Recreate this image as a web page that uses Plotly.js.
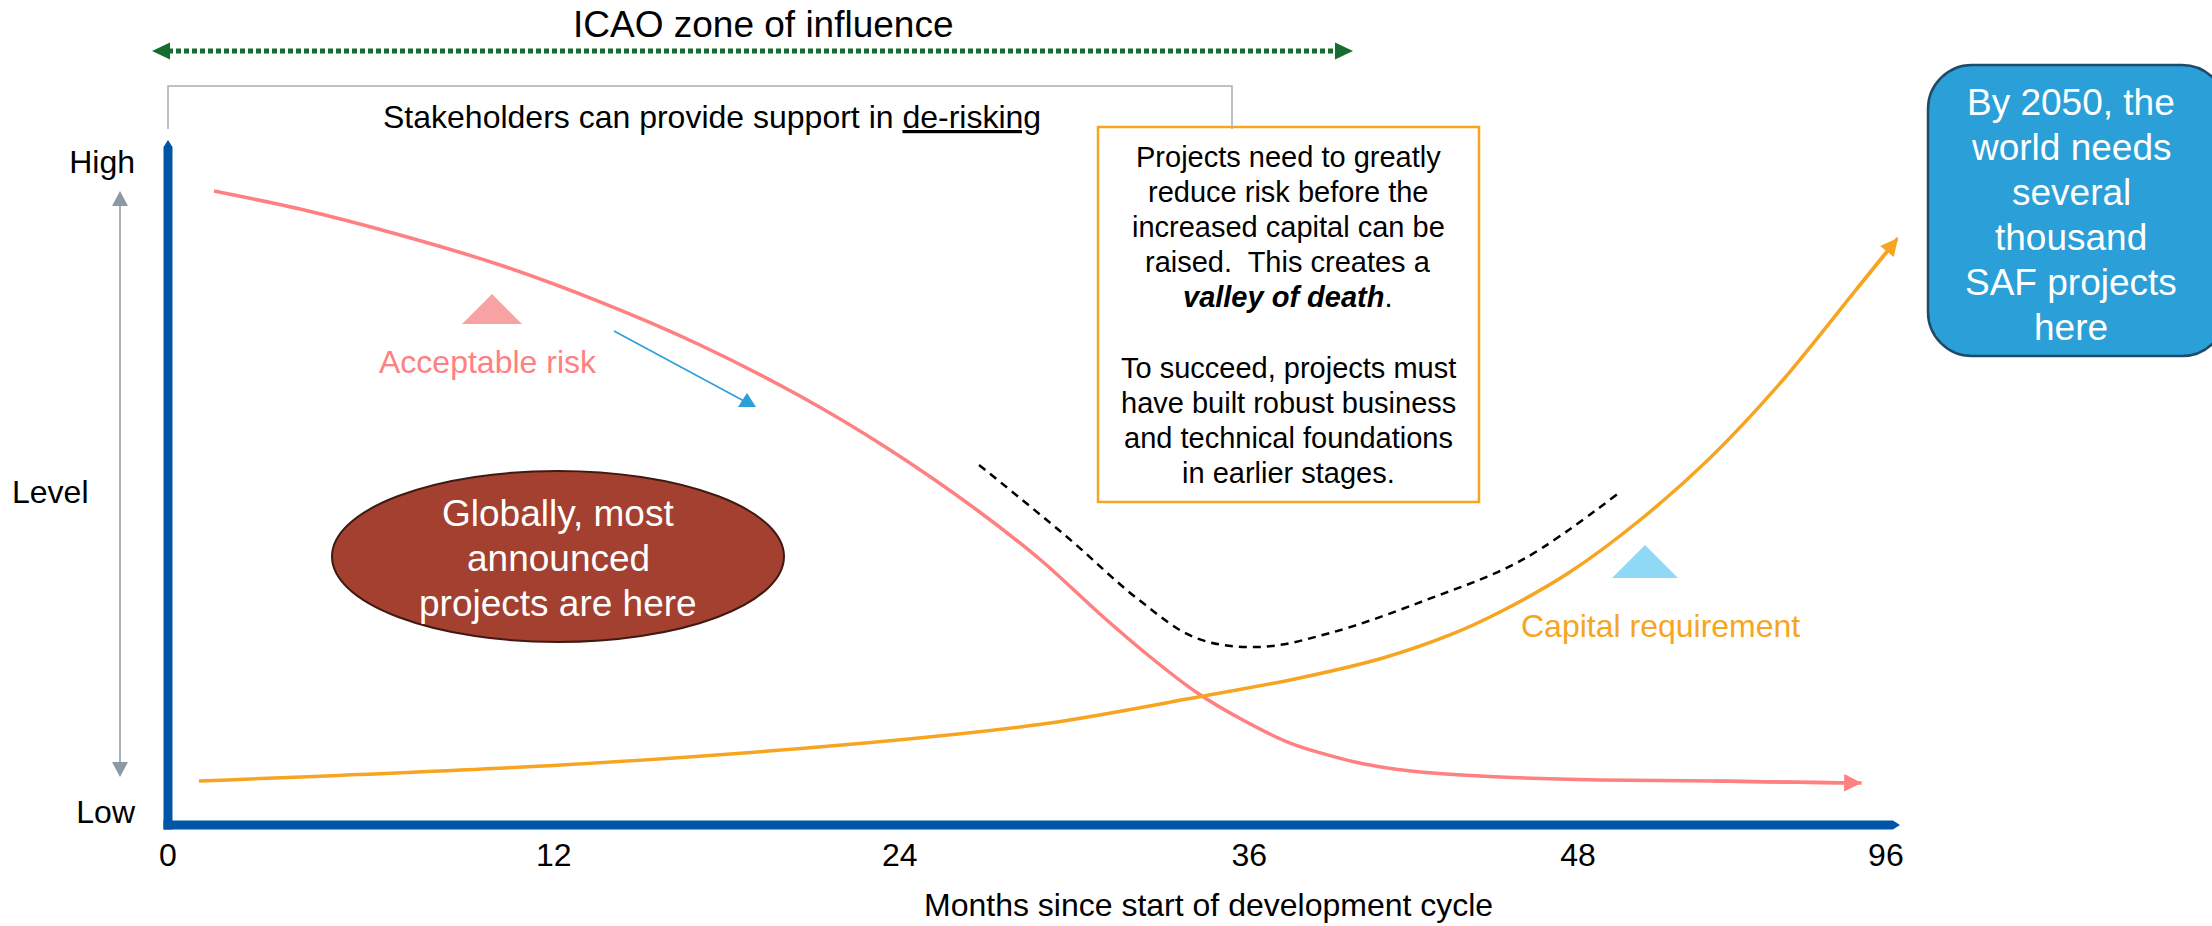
<!DOCTYPE html>
<html>
<head>
<meta charset="utf-8">
<script src="https://cdn.plot.ly/plotly-3.0.1.min.js"></script>
<style>html,body{margin:0;padding:0;background:#fff;}#chart{width:2212px;height:926px;}</style>
</head>
<body>
<div id="chart"></div>
<script>
// ---------- data ----------
const tickMonths = ["0", "12", "24", "36", "48", "96"];
const tickPositions = [0, 22.3, 42.3, 62.5, 81.5, 99.3];
const levelLabels = ["Low", "High"];
const levelPositions = [2, 97.2];

const riskX = [2.66, 7.63, 13.41, 19.19, 24.97, 30.75, 36.53, 41.56, 46.76, 50.58, 53.87, 56.71, 59.42, 62.02, 64.86, 68.61, 71.85, 76.99, 82.77, 89.25, 97.9];
const riskY = [92.96, 90.32, 86.51, 82.11, 76.69, 70.38, 62.90, 55.28, 46.19, 38.56, 30.94, 24.78, 19.50, 15.54, 12.02, 9.24, 7.92, 7.04, 6.60, 6.45, 6.16];

const capitalX = [1.79, 22.72, 38.96, 50.98, 59.54, 65.14, 70.23, 74.10, 76.99, 81.04, 85.09, 89.13, 93.35, 97.57, 100];
const capitalY = [6.45, 8.80, 11.73, 14.96, 18.77, 21.41, 24.49, 27.86, 31.23, 37.10, 44.72, 53.81, 65.25, 78.45, 86.07];

const valleyX = [46.88, 51.97, 56.13, 59.42, 63.06, 67.17, 72.72, 78.27, 83.93];
const valleyY = [52.79, 42.23, 32.99, 27.42, 26.1, 28.15, 32.99, 38.86, 48.83];

const boxLines = [
  "Projects need to greatly",
  "reduce risk before the",
  "increased capital can be",
  "raised.\u00A0 This creates a",
  "<b><i>valley of death</i></b>.",
  "",
  "To succeed, projects must",
  "have built robust business",
  "and technical foundations",
  "in earlier stages."
];
const safLines = ["By 2050, the", "world needs", "several", "thousand", "SAF projects", "here"];
const ellipseLines = ["Globally, most", "announced", "projects are here"];

// ---------- layout helpers ----------
const W = 2212, H = 926, L = 168, R = 1898, T = 143, B = 825;
const FONT = 'Liberation Sans, Arial, sans-serif';
const px = x => (x - L) / (R - L);
const py = y => (B - y) / (B - T);
function poly(pts) {
  return 'M' + pts.map(p => px(p[0]) + ',' + py(p[1])).join(' L') + ' Z';
}
function tri(pts, color) {
  return {type: 'path', xref: 'paper', yref: 'paper', path: poly(pts), fillcolor: color, line: {width: 0}, layer: 'above'};
}
function seg(x0, y0, x1, y1, color, width, dash) {
  return {type: 'line', xref: 'paper', yref: 'paper', x0: px(x0), y0: py(y0), x1: px(x1), y1: py(y1),
    line: {color: color, width: width, dash: dash || 'solid'}, layer: 'above'};
}
function roundRect(x0, y0, x1, y1, r) {
  const k = 0.552 * r;
  const P = (x, y) => px(x) + ',' + py(y);
  return 'M' + P(x0 + r, y0) + ' L' + P(x1 - r, y0) +
    ' C' + P(x1 - r + k, y0) + ' ' + P(x1, y0 + r - k) + ' ' + P(x1, y0 + r) +
    ' L' + P(x1, y1 - r) +
    ' C' + P(x1, y1 - r + k) + ' ' + P(x1 - r + k, y1) + ' ' + P(x1 - r, y1) +
    ' L' + P(x0 + r, y1) +
    ' C' + P(x0 + r - k, y1) + ' ' + P(x0, y1 - r + k) + ' ' + P(x0, y1 - r) +
    ' L' + P(x0, y0 + r) +
    ' C' + P(x0, y0 + r - k) + ' ' + P(x0 + r - k, y0) + ' ' + P(x0 + r, y0) + ' Z';
}
function label(text, x, y, size, color, extra) {
  return Object.assign({xref: 'paper', yref: 'paper', x: px(x), y: py(y), text: text, showarrow: false,
    xanchor: 'center', yanchor: 'middle', font: {family: FONT, size: size, color: color}}, extra || {});
}
function stack(lines, cx, y0, step, size, color) {
  const out = [];
  lines.forEach((t, i) => { if (t !== '') out.push(label(t, cx, y0 + i * step, size, color)); });
  return out;
}

// ---------- traces ----------
const traces = [
  {x: riskX, y: riskY, mode: 'lines', name: 'Acceptable risk', hoverinfo: 'skip',
   line: {color: '#FF8080', width: 3.5, shape: 'spline', smoothing: 0.8}},
  {x: capitalX, y: capitalY, mode: 'lines', name: 'Capital requirement', hoverinfo: 'skip',
   line: {color: '#F7A520', width: 3.5, shape: 'spline', smoothing: 0.8}},
  {x: valleyX, y: valleyY, mode: 'lines', name: 'Valley of death', hoverinfo: 'skip',
   line: {color: '#000000', width: 2.5, dash: '8px,6px', shape: 'spline', smoothing: 1}}
];

const nR = riskX.length, nC = capitalX.length;

const annotations = [
  label('ICAO zone of influence', 763, 25, 37, '#000'),
  label('Stakeholders can provide support in <span style="text-decoration:underline">de-risking</span>', 712, 117, 32, '#000'),
  label('Level', 50, 492, 32, '#000'),
  label('Acceptable risk', 488, 362, 32, '#FF8080'),
  label('Capital requirement', 1660, 626, 32, '#F7A520'),
  label('Months since start of development cycle', 1208, 905, 32, '#000'),
  // arrow heads on the curve ends, anchored to data
  {x: riskX[nR - 1], y: riskY[nR - 1], ax: riskX[nR - 2], ay: riskY[nR - 2], xref: 'x', yref: 'y', axref: 'x', ayref: 'y',
   showarrow: true, arrowhead: 2, arrowsize: 1, arrowwidth: 3.5, arrowcolor: '#FF8080', text: ''},
  {x: capitalX[nC - 1], y: capitalY[nC - 1], ax: capitalX[nC - 2], ay: capitalY[nC - 2], xref: 'x', yref: 'y', axref: 'x', ayref: 'y',
   showarrow: true, arrowhead: 2, arrowsize: 1, arrowwidth: 3.5, arrowcolor: '#F7A520', text: ''}
].concat(
  stack(boxLines, 1288, 157, 35.1, 29, '#000'),
  stack(safLines, 2071, 102, 45, 37, '#FFFFFF'),
  stack(ellipseLines, 558, 513, 45, 37, '#FFFFFF')
);

const shapes = [
  // axes
  seg(168, 829.5, 168, 147, '#0056A6', 9),
  tri([[163.5, 147], [172.5, 147], [168, 140]], '#0056A6'),
  seg(163.5, 825, 1893, 825, '#0056A6', 9),
  tri([[1893, 820.5], [1893, 829.5], [1900, 825]], '#0056A6'),
  // level double arrow
  seg(120, 204, 120, 764, '#8E9AA3', 1.5),
  tri([[112, 206], [128, 206], [120, 191]], '#8E9AA3'),
  tri([[112, 762], [128, 762], [120, 777]], '#8E9AA3'),
  // ICAO zone arrow
  seg(168, 51, 1337, 51, '#176B2E', 5, '5px,3px'),
  tri([[152, 51], [170, 42.5], [170, 59.5]], '#176B2E'),
  tri([[1353, 51], [1335, 42.5], [1335, 59.5]], '#176B2E'),
  // stakeholders bracket
  {type: 'path', xref: 'paper', yref: 'paper', layer: 'above',
   path: 'M' + px(168) + ',' + py(129) + ' L' + px(168) + ',' + py(86) + ' L' + px(1232) + ',' + py(86) + ' L' + px(1232) + ',' + py(129),
   line: {color: '#ADADAD', width: 1.5}},
  // orange text box
  {type: 'rect', xref: 'paper', yref: 'paper', layer: 'below', x0: px(1098), x1: px(1479), y0: py(127), y1: py(502),
   line: {color: '#F7A520', width: 2.5}, fillcolor: '#FFFFFF'},
  // blue rounded box
  {type: 'path', xref: 'paper', yref: 'paper', layer: 'above', path: roundRect(1928, 65, 2226, 356, 44),
   fillcolor: '#2A9FD8', line: {color: '#1F4A68', width: 2.5}},
  // ellipse
  {type: 'circle', xref: 'paper', yref: 'paper', layer: 'above', x0: px(332), x1: px(784), y0: py(642), y1: py(471),
   fillcolor: '#A3402F', line: {color: '#3F1A12', width: 2}},
  // markers
  tri([[462, 324], [522, 324], [492, 294]], '#F7A3A3'),
  tri([[1612, 578], [1678, 578], [1645, 545]], '#8FD9F6'),
  seg(614, 331, 744, 401, '#2A9FD8', 1.5),
  tri([[738, 407], [756, 407], [747, 393]], '#2A9FD8')
];

const layout = {
  width: W, height: H, autosize: false,
  margin: {l: L, r: W - R, t: T, b: H - B, pad: 0},
  paper_bgcolor: '#FFFFFF', plot_bgcolor: 'rgba(0,0,0,0)',
  showlegend: false, hovermode: false,
  font: {family: FONT, size: 32, color: '#000'},
  xaxis: {range: [0, 100], showgrid: false, zeroline: false, showline: false, fixedrange: true,
    tickmode: 'array', tickvals: tickPositions, ticktext: tickMonths, ticks: '', ticklabelstandoff: 8,
    tickfont: {family: FONT, size: 32, color: '#000'}},
  yaxis: {range: [0, 100], showgrid: false, zeroline: false, showline: false, fixedrange: true,
    tickmode: 'array', tickvals: levelPositions, ticktext: levelLabels, ticks: '', ticklabelstandoff: 32,
    tickfont: {family: FONT, size: 32, color: '#000'}},
  annotations: annotations,
  shapes: shapes
};

Plotly.newPlot('chart', traces, layout, {displayModeBar: false, staticPlot: true});
</script>
</body>
</html>
